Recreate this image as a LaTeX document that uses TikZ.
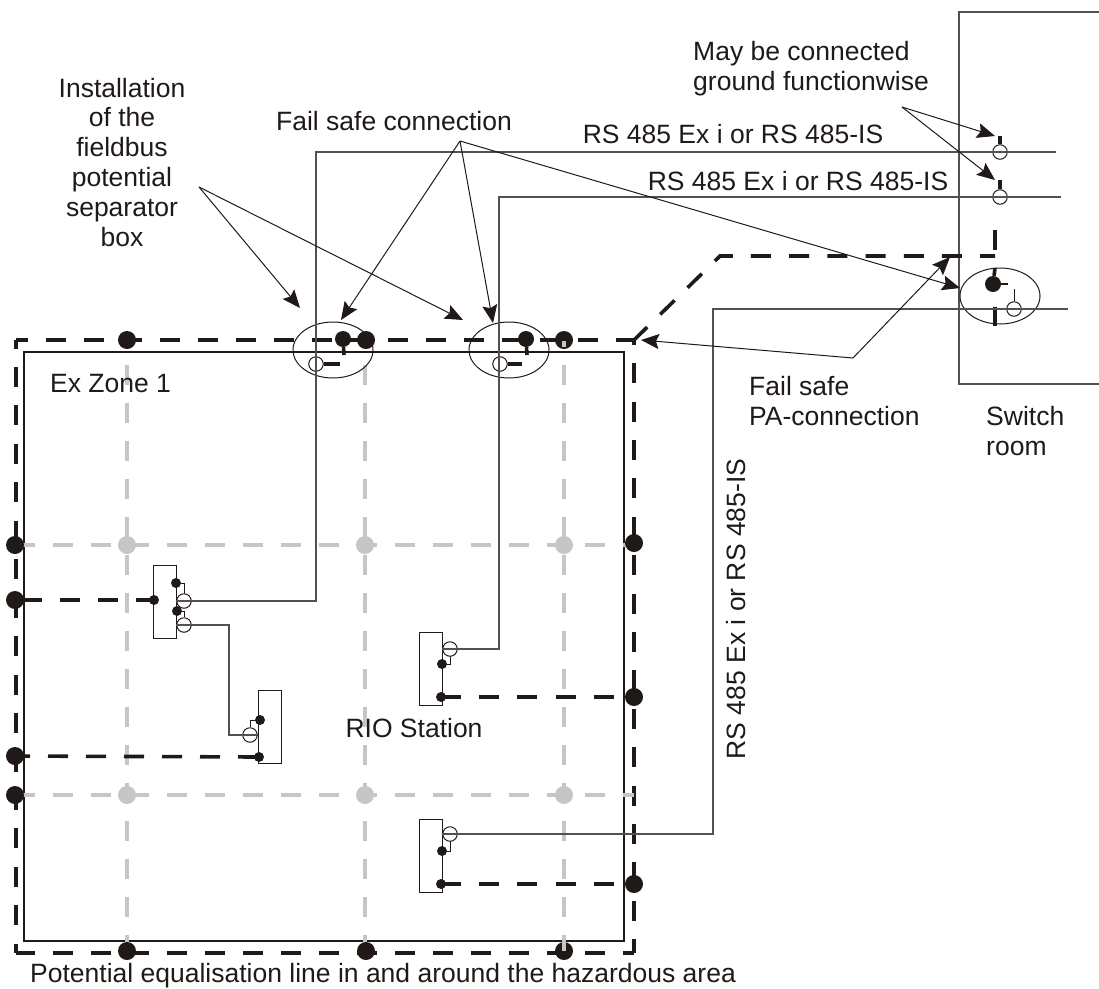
\documentclass[tikz,border=0pt]{standalone}
\usepackage{fontspec}
\setmainfont{Liberation Sans}
\usetikzlibrary{arrows.meta, shapes.geometric}
\definecolor{ink}{HTML}{1F1A17}
\definecolor{wirecol}{HTML}{55504E}
\definecolor{palegray}{HTML}{C6C6C6}

\begin{document}
\begin{tikzpicture}[x=1pt, y=-1pt,
  lab/.style = {font=\fontsize{26.5}{29.8}\selectfont, inner sep=0pt, align=center, text=ink, anchor=base},
  labl/.style = {lab, align=left, anchor=base west},
  blk/.style = {circle, fill=ink, inner sep=0pt, minimum size=18pt},
  blkm/.style = {blk, minimum size=16pt},
  blks/.style = {blk, minimum size=10pt},
  pale/.style = {circle, fill=palegray, inner sep=0pt, minimum size=18pt},
  opn/.style = {circle, draw=ink, fill=white, line width=1pt, inner sep=0pt, minimum size=14.5pt},
  sepbox/.style = {draw=ink, ellipse, line width=1pt, inner sep=0pt, minimum width=80pt, minimum height=56pt},
  rio/.style = {draw=ink, line width=1pt, inner sep=0pt, minimum width=23pt, minimum height=73pt},
  wire/.style = {draw=wirecol, line width=1.3pt},
  tap/.style = {draw=ink, line width=1pt},
  pa/.style = {draw=ink, line width=3.6pt, dash pattern=on 20pt off 18.2pt},
  stub/.style = {draw=ink, line width=3.6pt},
  gridline/.style = {draw=palegray, line width=3.6pt, dash pattern=on 20pt off 18pt},
  ptr/.style = {draw=ink, line width=1pt, -{Stealth[length=18pt,width=15pt,inset=3pt]}}]
\useasboundingbox (0,0) rectangle (1099,988);

% areas
\node[draw=ink, line width=2.4pt, inner sep=0pt, minimum width=600pt, minimum height=589pt] (zone) at (324,646.5) {};
\coordinate (rooma) at (959,12);
\coordinate (roomb) at (1099,12);
\coordinate (roomc) at (1099,384);
\coordinate (roomd) at (959,384);
\draw[wire] (roomb) -- (rooma) -- (roomd) -- (roomc);

% equalisation line
\coordinate (ca) at (16,340);
\coordinate (cb) at (634,340);
\coordinate (cc) at (634,953);
\coordinate (cd) at (16,953);
\coordinate (pa1) at (720,256);
\coordinate (pa2) at (995,256);
\coordinate (pa3) at (995,250);
\coordinate (pa4) at (995,230);
\draw[pa, dash pattern=on 20pt off 18pt, dash phase=8pt] (ca) -- (cb);
\draw[pa, dash pattern=on 20pt off 18.46pt, dash phase=11.5pt] (ca) -- (cd);
\draw[pa, dash pattern=on 20pt off 18.4pt, dash phase=15.2pt] (cb) -- (cc);
\draw[pa, dash pattern=on 20pt off 18pt, dash phase=1pt] (cd) -- (cc);
\draw[pa, dash phase=1.6pt] (cb) -- (pa1) -- (pa2);
\draw[stub] (pa3) -- (pa4);

% grid
\coordinate (e1) at (15,545);
\coordinate (e2) at (634,545);
\coordinate (e3) at (15,795);
\coordinate (e4) at (634,795);
\coordinate (v1) at (127,365);
\coordinate (v2) at (365,365);
\coordinate (v3) at (564,365);
\coordinate (v4) at (127,951);
\coordinate (v5) at (365,951);
\coordinate (v6) at (564,951);
\draw[gridline] (e1) -- (e2);
\draw[gridline] (e3) -- (e4);
\draw[gridline] (v1) -- (v4);
\draw[gridline] (v2) -- (v5);
\draw[gridline] (v3) -- (v6);

% potential equalisation points
\node[pale] (g1) at (127,545) {};
\node[pale] (g2) at (365,545) {};
\node[pale] (g3) at (564,545) {};
\node[pale] (g4) at (127,795) {};
\node[pale] (g5) at (365,795) {};
\node[pale] (g6) at (564,795) {};
\node[blk] (t1) at (127,340) {};
\node[blk] (t2) at (366,340) {};
\node[blk] (t3) at (564,340) {};
\node[blk] (b1) at (127,951) {};
\node[blk] (b2) at (366,951) {};
\node[blk] (b3) at (564,951) {};
\node[blk] (l1) at (15,545) {};
\node[blk] (l2) at (15,600) {};
\node[blk] (l3) at (15,756) {};
\node[blk] (l4) at (15,795) {};
\node[blk] (r1) at (634,543) {};
\node[blk] (r2) at (634,697) {};
\node[blk] (r3) at (634,884) {};
\coordinate (gs1) at (564,341);
\coordinate (gs2) at (564,347);
\coordinate (gs3) at (564,942);
\coordinate (gs4) at (564,951);
\draw[draw=palegray, line width=3.6pt] (gs1) -- (gs2);
\draw[draw=palegray, line width=3.6pt] (gs3) -- (gs4);

% stations
\node[rio] (box1) at (165,602) {};
\node[rio] (box2) at (270,727) {};
\node[rio] (box3) at (430.5,669) {};
\node[rio] (box4) at (430.5,856) {};
\node[blks] (a1) at (176,583) {};
\node[blks] (a2) at (154,600) {};
\node[blks] (a3) at (177,611) {};
\node[blks] (a4) at (260,720) {};
\node[blks] (a5) at (259,757) {};
\node[blks] (a6) at (442,664) {};
\node[blks] (a7) at (441,697) {};
\node[blks] (a8) at (442,851) {};
\node[blks] (a9) at (441,884) {};
\coordinate (k1) at (184,583);
\coordinate (k2) at (184,611);
\coordinate (k3) at (250,720);
\coordinate (k4) at (450,664);
\coordinate (k5) at (450,851);
\coordinate (k6) at (184,594);
\coordinate (k7) at (184,617);
\coordinate (k8) at (250,727);
\coordinate (k9) at (450,642);
\coordinate (k10) at (450,827);
\draw[tap] (a1) -- (k1) -- (k6);
\draw[tap] (a3) -- (k2) -- (k7);
\draw[tap] (a4) -- (k3) -- (k8);
\draw[tap] (a6) -- (k4) -- (k9);
\draw[tap] (a8) -- (k5) -- (k10);
\node[opn] (o1) at (184,601) {};
\node[opn] (o2) at (184,625) {};
\node[opn] (o3) at (250,735) {};
\node[opn] (o4) at (450,649) {};
\node[opn] (o5) at (450,834) {};

% ring sections
\draw[pa, dash pattern=on 20pt off 18pt, dash phase=31pt] (l2.center) -- (a2.center);
\draw[pa, dash pattern=on 20pt off 18pt, dash phase=5pt] (l3.center) -- (a5.center);
\draw[pa] (a7.center) -- (r2.center);
\draw[pa] (a9.center) -- (r3.center);

% separator boxes
\node[sepbox] (sep1) at (333,350) {};
\node[sepbox] (sep2) at (509,350) {};
\node[sepbox] (sep3) at (1000,296) {};
\node[blkm] (s1) at (343,339) {};
\node[blkm] (s2) at (526,339) {};
\node[blkm] (s3) at (993,284) {};
\node[opn] (p1) at (316,364) {};
\node[opn] (p2) at (500,364) {};
\node[opn] (p3) at (1014,309) {};
\node[opn] (p4) at (1000,152) {};
\node[opn] (p5) at (1000,197) {};
\coordinate (n1) at (344,355);
\coordinate (n2) at (527,355);
\coordinate (n3) at (340,364);
\coordinate (n4) at (522,364);
\coordinate (n5) at (995,268);
\coordinate (n6) at (1008,284);
\coordinate (n7) at (1014,289);
\coordinate (n8) at (1000,136);
\coordinate (n9) at (1000,180);
\coordinate (n10) at (995,307);
\coordinate (n11) at (995,326);
\draw[stub] (s1) -- (n1);
\draw[stub] (s2) -- (n2);
\draw[stub] (p1) -- (n3);
\draw[stub] (p2) -- (n4);
\draw[stub] (s3) -- (n5);
\draw[draw=ink, line width=2.4pt] (s3) -- (n6);
\draw[tap] (n7) -- (p3);
\draw[stub] (n8) -- (p4);
\draw[stub] (n9) -- (p5);
\draw[stub] (n10) -- (n11);

% bus lines
\coordinate (w1) at (316,601);
\coordinate (w2) at (316,152);
\coordinate (w3) at (1056,152);
\coordinate (w4) at (499,649);
\coordinate (w5) at (499,197);
\coordinate (w6) at (1061,197);
\coordinate (w7) at (713,834);
\coordinate (w8) at (713,309);
\coordinate (w9) at (1068,309);
\coordinate (w10) at (229,625);
\coordinate (w11) at (229,735);
\draw[wire] (o1.west) -- (w1) -- (w2) -- (w3);
\draw[wire] (o4.west) -- (w4) -- (w5) -- (w6);
\draw[wire] (o5.west) -- (w7) -- (w8) -- (w9);
\draw[wire] (o2.east) -- (w10) -- (w11) -- (o3.east);
\draw[wire] (o2.west) -- (o2.east);
\draw[wire] (o3.west) -- (o3.east);

% labels
\node[lab] (install) at (122,246) {Installation\\of the\\fieldbus\\potential\\separator\\box};
\node[lab] (failsafe) at (394,130) {Fail safe connection};
\node[labl] (maybe) at (693,90) {May be connected\\ground functionwise};
\node[lab] (rs1) at (733,143) {RS 485 Ex i or RS 485-IS};
\node[lab] (rs2) at (798,190) {RS 485 Ex i or RS 485-IS};
\node[lab, rotate=90] (rs3) at (745,609) {RS 485 Ex i or RS 485-IS};
\node[labl] (papoint) at (749,425) {Fail safe\\PA-connection};
\node[labl] (room) at (986,455) {Switch\\room};
\node[labl] (exzone) at (50,392) {Ex Zone 1};
\node[lab] (station) at (414,737) {RIO Station};
\node[labl] (bottom) at (30,982) {Potential equalisation line in and around the hazardous area};

% pointers
\coordinate (q1) at (199,187);
\coordinate (q2) at (460,141);
\coordinate (q3) at (902,107);
\coordinate (q4) at (853,358);
\coordinate (h1) at (300,308);
\coordinate (h2) at (463,320);
\coordinate (h3) at (341,320);
\coordinate (h4) at (493,323);
\coordinate (h5) at (960,288);
\coordinate (h6) at (995,136);
\coordinate (h7) at (995,180);
\coordinate (h8) at (950,257);
\coordinate (h9) at (641,340);
\draw[ptr] (q1) -- (h1);
\draw[ptr] (q1) -- (h2);
\draw[ptr] (q2) -- (h3);
\draw[ptr] (q2) -- (h4);
\draw[ptr] (q2) -- (h5);
\draw[ptr] (q3) -- (h6);
\draw[ptr] (q3) -- (h7);
\draw[ptr] (q4) -- (h8);
\draw[ptr] (q4) -- (h9);
\end{tikzpicture}
\end{document}
